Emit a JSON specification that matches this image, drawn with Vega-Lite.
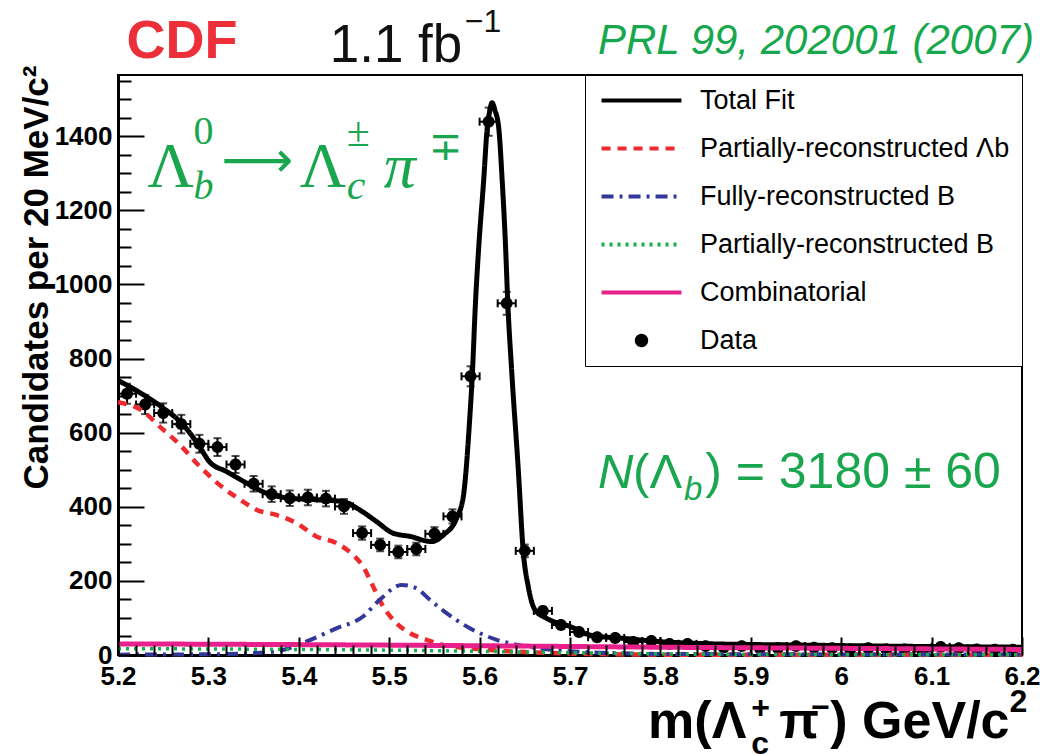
{
  "$schema": "https://vega.github.io/schema/vega-lite/v6.json",
  "width": 904,
  "height": 580,
  "autosize": {"type": "none"},
  "padding": {"left": 118, "top": 75, "right": 18, "bottom": 99},
  "background": "white",
  "config": {
    "view": {"stroke": "black", "strokeWidth": 2},
    "axis": {"grid": false, "zindex": 1, "domainColor": "black", "domainWidth": 3, "tickColor": "black", "tickWidth": 2, "labelFont": "Liberation Sans", "labelFontWeight": "bold", "labelFontSize": 26, "labelColor": "black", "labelFlush": false, "labelOverlap": false},
    "legend": {
      "orient": "top-right", "offset": 0, "padding": 12,
      "strokeColor": "black", "fillColor": "white",
      "labelFont": "Liberation Sans", "labelFontSize": 27, "labelColor": "black", "labelLimit": 500,
      "labelOffset": 45, "rowPadding": 20,
      "symbolSize": 289, "symbolStrokeWidth": 4, "symbolOffset": 31
    },
    "text": {"font": "Liberation Sans"}
  },
  "resolve": {"axis": {"x": "independent", "y": "independent"}},
  "datasets": {
    "pts": [
      {"m":5.21,"lo":5.20,"hi":5.22,"n":705,"err":27},
      {"m":5.23,"lo":5.22,"hi":5.24,"n":676,"err":26},
      {"m":5.25,"lo":5.24,"hi":5.26,"n":653,"err":26},
      {"m":5.27,"lo":5.26,"hi":5.28,"n":623,"err":25},
      {"m":5.29,"lo":5.28,"hi":5.30,"n":570,"err":24},
      {"m":5.31,"lo":5.30,"hi":5.32,"n":561,"err":24},
      {"m":5.33,"lo":5.32,"hi":5.34,"n":514,"err":23},
      {"m":5.35,"lo":5.34,"hi":5.36,"n":462,"err":21},
      {"m":5.37,"lo":5.36,"hi":5.38,"n":434,"err":21},
      {"m":5.39,"lo":5.38,"hi":5.40,"n":423,"err":21},
      {"m":5.41,"lo":5.40,"hi":5.42,"n":425,"err":21},
      {"m":5.43,"lo":5.42,"hi":5.44,"n":422,"err":21},
      {"m":5.45,"lo":5.44,"hi":5.46,"n":401,"err":20},
      {"m":5.47,"lo":5.46,"hi":5.48,"n":329,"err":18},
      {"m":5.49,"lo":5.48,"hi":5.50,"n":297,"err":17},
      {"m":5.51,"lo":5.50,"hi":5.52,"n":278,"err":17},
      {"m":5.53,"lo":5.52,"hi":5.54,"n":286,"err":17},
      {"m":5.55,"lo":5.54,"hi":5.56,"n":327,"err":18},
      {"m":5.57,"lo":5.56,"hi":5.58,"n":374,"err":19},
      {"m":5.59,"lo":5.58,"hi":5.60,"n":752,"err":27},
      {"m":5.61,"lo":5.60,"hi":5.62,"n":1439,"err":38},
      {"m":5.63,"lo":5.62,"hi":5.64,"n":949,"err":31},
      {"m":5.65,"lo":5.64,"hi":5.66,"n":281,"err":17},
      {"m":5.67,"lo":5.66,"hi":5.68,"n":119,"err":11},
      {"m":5.69,"lo":5.68,"hi":5.70,"n":81,"err":9},
      {"m":5.71,"lo":5.70,"hi":5.72,"n":62,"err":8},
      {"m":5.73,"lo":5.72,"hi":5.74,"n":48,"err":7},
      {"m":5.75,"lo":5.74,"hi":5.76,"n":46,"err":7},
      {"m":5.77,"lo":5.76,"hi":5.78,"n":35,"err":6},
      {"m":5.79,"lo":5.78,"hi":5.80,"n":38,"err":6},
      {"m":5.81,"lo":5.80,"hi":5.82,"n":30,"err":5},
      {"m":5.83,"lo":5.82,"hi":5.84,"n":30,"err":5},
      {"m":5.85,"lo":5.84,"hi":5.86,"n":24,"err":5},
      {"m":5.87,"lo":5.86,"hi":5.88,"n":20,"err":4},
      {"m":5.89,"lo":5.88,"hi":5.90,"n":24,"err":5},
      {"m":5.91,"lo":5.90,"hi":5.92,"n":18,"err":4},
      {"m":5.93,"lo":5.92,"hi":5.94,"n":18,"err":4},
      {"m":5.95,"lo":5.94,"hi":5.96,"n":24,"err":5},
      {"m":5.97,"lo":5.96,"hi":5.98,"n":20,"err":4},
      {"m":5.99,"lo":5.98,"hi":6.00,"n":18,"err":4},
      {"m":6.01,"lo":6.00,"hi":6.02,"n":15,"err":4},
      {"m":6.03,"lo":6.02,"hi":6.04,"n":18,"err":4},
      {"m":6.05,"lo":6.04,"hi":6.06,"n":15,"err":4},
      {"m":6.07,"lo":6.06,"hi":6.08,"n":15,"err":4},
      {"m":6.09,"lo":6.08,"hi":6.10,"n":10,"err":3},
      {"m":6.11,"lo":6.10,"hi":6.12,"n":22,"err":5},
      {"m":6.13,"lo":6.12,"hi":6.14,"n":18,"err":4},
      {"m":6.15,"lo":6.14,"hi":6.16,"n":15,"err":4},
      {"m":6.17,"lo":6.16,"hi":6.18,"n":14,"err":4},
      {"m":6.19,"lo":6.18,"hi":6.20,"n":14,"err":4}
    ],
    "total": [
      {"m":5.200,"v":741},{"m":5.2275,"v":703},{"m":5.2496,"v":667},{"m":5.2718,"v":622},
      {"m":5.290,"v":563},{"m":5.301,"v":522},{"m":5.320,"v":495},{"m":5.346,"v":459},
      {"m":5.360,"v":441},{"m":5.390,"v":423},{"m":5.419,"v":419},{"m":5.449,"v":414},
      {"m":5.467,"v":392},{"m":5.486,"v":360},{"m":5.504,"v":329},{"m":5.523,"v":320},
      {"m":5.547,"v":306},{"m":5.560,"v":324},{"m":5.5745,"v":369},{"m":5.582,"v":428},
      {"m":5.589,"v":635},{"m":5.5919,"v":754},{"m":5.5954,"v":949},{"m":5.5991,"v":1103},
      {"m":5.6046,"v":1284},{"m":5.6083,"v":1419},{"m":5.611,"v":1465},{"m":5.6138,"v":1490},
      {"m":5.617,"v":1470},{"m":5.6213,"v":1419},{"m":5.6249,"v":1284},{"m":5.6287,"v":1103},
      {"m":5.6312,"v":949},{"m":5.6354,"v":770},{"m":5.6428,"v":500},{"m":5.6483,"v":279},
      {"m":5.6538,"v":185},{"m":5.6612,"v":122},{"m":5.6742,"v":99},{"m":5.700,"v":77},
      {"m":5.722,"v":54},{"m":5.763,"v":44},{"m":5.800,"v":36},{"m":5.859,"v":30},
      {"m":5.95,"v":27},{"m":6.05,"v":24},{"m":6.2,"v":21}
    ],
    "red": [
      {"m":5.2,"v":682},{"m":5.2275,"v":658},{"m":5.2459,"v":617},{"m":5.2681,"v":568},
      {"m":5.2903,"v":509},{"m":5.3124,"v":459},{"m":5.3382,"v":414},{"m":5.353,"v":392},
      {"m":5.3751,"v":378},{"m":5.3973,"v":356},{"m":5.4194,"v":320},{"m":5.4416,"v":302},
      {"m":5.46,"v":270},{"m":5.4711,"v":239},{"m":5.4822,"v":185},{"m":5.4933,"v":131},
      {"m":5.508,"v":86},{"m":5.5228,"v":59},{"m":5.5413,"v":41},{"m":5.5597,"v":27},
      {"m":5.5893,"v":18},{"m":5.62,"v":12},{"m":5.66,"v":7},{"m":5.72,"v":3},
      {"m":5.8,"v":1},{"m":6.2,"v":0.5}
    ],
    "blue": [
      {"m":5.2,"v":1},{"m":5.3,"v":2},{"m":5.35,"v":5},{"m":5.38,"v":12},
      {"m":5.408,"v":36},{"m":5.4416,"v":72},{"m":5.4711,"v":104},{"m":5.4896,"v":149},
      {"m":5.5136,"v":189},{"m":5.5302,"v":180},{"m":5.545,"v":149},{"m":5.5634,"v":113},
      {"m":5.5893,"v":72},{"m":5.6188,"v":41},{"m":5.652,"v":23},{"m":5.7,"v":10},
      {"m":5.8,"v":3},{"m":6.2,"v":1}
    ],
    "green": [
      {"m":5.2,"v":17},{"m":5.4,"v":15},{"m":5.5,"v":13},{"m":5.6,"v":10},
      {"m":5.7,"v":6},{"m":5.8,"v":3},{"m":5.9,"v":1.5},{"m":6.2,"v":0.5}
    ],
    "pink": [
      {"m":5.2,"v":30},{"m":5.4,"v":28},{"m":5.6,"v":25},{"m":5.8,"v":21},
      {"m":6.0,"v":18},{"m":6.2,"v":15}
    ]
  },
  "layer": [
    {
      "data": {"name": "pts"},
      "mark": {"type": "point", "filled": true, "size": 470, "opacity": 1},
      "encoding": {
        "x": {
          "field": "m", "type": "quantitative",
          "scale": {"domain": [5.2, 6.2], "nice": false, "zero": false},
          "axis": {
            "title": null, "orient": "bottom",
            "values": [5.2,5.3,5.4,5.5,5.6,5.7,5.8,5.9,6,6.1,6.2],
            "format": "~g",
            "ticks": false,
            "labelPadding": 8,
            "labelOverlap": false
          }
        },
        "y": {
          "field": "n", "type": "quantitative",
          "scale": {"domain": [0, 1565], "nice": false, "zero": false},
          "axis": {
            "orient": "left",
            "title": "Candidates per 20 MeV/c²",
            "titleFont": "Liberation Sans", "titleFontWeight": "bold", "titleFontSize": 35, "titleColor": "black",
            "titleX": -71, "titleY": -10, "titleAlign": "right", "titleAngle": 270, "titleBaseline": "alphabetic",
            "values": [0,200,400,600,800,1000,1200,1400],
            "format": "d",
            "ticks": false,
            "labelPadding": 6,
            "labelOverlap": false
          }
        },
        "color": {
          "datum": "Data",
          "title": null,
          "scale": {
            "domain": ["Total Fit", "Partially-reconstructed Λb", "Fully-reconstructed B", "Partially-reconstructed B", "Combinatorial", "Data"],
            "range": ["#000000", "#ee2a2e", "#33379a", "#16b04e", "#e8208c", "#000000"]
          },
          "legend": {"title": null, "labelExpr": "datum.value === 'Partially-reconstructed Λb' ? datum.label + '\u2003\u2003' : datum.label"}
        },
        "shape": {
          "datum": "Data",
          "title": null,
          "scale": {
            "domain": ["Total Fit", "Partially-reconstructed Λb", "Fully-reconstructed B", "Partially-reconstructed B", "Combinatorial", "Data"],
            "range": ["M-4.7,0H4.7", "M-4.7,0H4.7", "M-4.7,0H4.7", "M-4.7,0H4.7", "M-4.7,0H4.7", "M0.55,0A0.55,0.55 0 1,1 -0.55,0A0.55,0.55 0 1,1 0.55,0Z"]
          },
          "legend": {"title": null, "labelExpr": "datum.value === 'Partially-reconstructed Λb' ? datum.label + '\u2003\u2003' : datum.label"}
        }
      }
    },
    {
      "data": {"name": "pts"},
      "mark": {"type": "errorbar", "ticks": {"size": 8}, "thickness": 2, "color": "black"},
      "encoding": {
        "x": {"field": "m", "type": "quantitative", "axis": null},
        "y": {"field": "n", "type": "quantitative", "axis": null},
        "yError": {"field": "err"}
      }
    },
    {
      "data": {"name": "pts"},
      "mark": {"type": "rule", "strokeWidth": 2, "color": "black"},
      "encoding": {
        "x": {"field": "lo", "type": "quantitative", "axis": null},
        "x2": {"field": "hi"},
        "y": {"field": "n", "type": "quantitative", "axis": null}
      }
    },
    {
      "data": {"name": "pts"},
      "mark": {"type": "tick", "orient": "vertical", "size": 8, "thickness": 2, "color": "black", "opacity": 1},
      "encoding": {
        "x": {"field": "lo", "type": "quantitative", "axis": null},
        "y": {"field": "n", "type": "quantitative", "axis": null}
      }
    },
    {
      "data": {"name": "pts"},
      "mark": {"type": "tick", "orient": "vertical", "size": 8, "thickness": 2, "color": "black", "opacity": 1},
      "encoding": {
        "x": {"field": "hi", "type": "quantitative", "axis": null},
        "y": {"field": "n", "type": "quantitative", "axis": null}
      }
    },
    {
      "data": {"name": "total"},
      "mark": {"type": "line", "strokeWidth": 5, "interpolate": "monotone"},
      "encoding": {
        "x": {"field": "m", "type": "quantitative",
          "axis": {"orient": "bottom", "offset": -18, "zindex": 2, "title": null, "labels": false, "domain": false, "ticks": true, "tickSize": 18,
            "values": [5.2,5.3,5.4,5.5,5.6,5.7,5.8,5.9,6,6.1,6.2]}},
        "y": {"field": "v", "type": "quantitative",
          "axis": {"orient": "right", "offset": -904, "zindex": 2, "title": null, "labels": false, "domain": false, "tickSize": 26,
            "values": [0,200,400,600,800,1000,1200,1400]}},
        "color": {"datum": "Total Fit"},
        "strokeDash": {
          "datum": "Total Fit",
          "title": null,
          "scale": {
            "domain": ["Total Fit", "Partially-reconstructed Λb", "Fully-reconstructed B", "Partially-reconstructed B", "Combinatorial", "Data"],
            "range": [[1, 0], [9, 7], [12, 6, 3, 6], [3, 5], [1, 0], [1, 0]]
          },
          "legend": {"title": null, "labelExpr": "datum.value === 'Partially-reconstructed Λb' ? datum.label + '\u2003\u2003' : datum.label"}
        }
      }
    },
    {
      "data": {"name": "red"},
      "mark": {"type": "line", "strokeWidth": 4.5, "interpolate": "monotone"},
      "encoding": {
        "x": {"field": "m", "type": "quantitative", "axis": null},
        "y": {"field": "v", "type": "quantitative", "axis": null},
        "color": {"datum": "Partially-reconstructed Λb"},
        "strokeDash": {"datum": "Partially-reconstructed Λb"}
      }
    },
    {
      "data": {"name": "blue"},
      "mark": {"type": "line", "strokeWidth": 4, "interpolate": "monotone"},
      "encoding": {
        "x": {"field": "m", "type": "quantitative", "axis": null},
        "y": {"field": "v", "type": "quantitative", "axis": null},
        "color": {"datum": "Fully-reconstructed B"},
        "strokeDash": {"datum": "Fully-reconstructed B"}
      }
    },
    {
      "data": {"name": "green"},
      "mark": {"type": "line", "strokeWidth": 3.5, "interpolate": "monotone"},
      "encoding": {
        "x": {"field": "m", "type": "quantitative", "axis": null},
        "y": {"field": "v", "type": "quantitative", "axis": null},
        "color": {"datum": "Partially-reconstructed B"},
        "strokeDash": {"datum": "Partially-reconstructed B"}
      }
    },
    {
      "data": {"name": "pink"},
      "mark": {"type": "line", "strokeWidth": 5, "interpolate": "monotone"},
      "encoding": {
        "x": {"field": "m", "type": "quantitative",
          "axis": {"orient": "bottom", "offset": -10, "zindex": 2, "title": null, "labels": false, "domain": false, "ticks": true, "tickSize": 10,
            "values": [5.22,5.24,5.26,5.28,5.32,5.34,5.36,5.38,5.42,5.44,5.46,5.48,5.52,5.54,5.56,5.58,5.62,5.64,5.66,5.68,5.72,5.74,5.76,5.78,5.82,5.84,5.86,5.88,5.92,5.94,5.96,5.98,6.02,6.04,6.06,6.08,6.12,6.14,6.16,6.18]}},
        "y": {"field": "v", "type": "quantitative",
          "axis": {"orient": "right", "offset": -904, "zindex": 2, "title": null, "labels": false, "domain": false, "tickSize": 13,
            "values": [50,100,150,250,300,350,450,500,550,650,700,750,850,900,950,1050,1100,1150,1250,1300,1350,1450,1500,1550]}},
        "color": {"datum": "Combinatorial"},
        "strokeDash": {"datum": "Combinatorial"}
      }
    },
    {"data": {"values": [{}]}, "mark": {"type": "text", "text": "CDF", "fontWeight": "bold", "fontSize": 54, "color": "#ec2f38", "align": "left", "baseline": "alphabetic"},
     "encoding": {"x": {"datum": 5.2094, "axis": null}, "y": {"datum": 1611, "axis": null}}},
    {"data": {"values": [{}]}, "mark": {"type": "text", "text": "1.1 fb", "fontSize": 53, "color": "#111111", "align": "left", "baseline": "alphabetic"},
     "encoding": {"x": {"datum": 5.4342, "axis": null}, "y": {"datum": 1600, "axis": null}}},
    {"data": {"values": [{}]}, "mark": {"type": "text", "text": "−1", "fontSize": 32, "color": "#111111", "align": "left", "baseline": "alphabetic"},
     "encoding": {"x": {"datum": 5.5837, "axis": null}, "y": {"datum": 1681, "axis": null}}},
    {"data": {"values": [{}]}, "mark": {"type": "text", "text": "PRL 99, 202001 (2007)", "fontSize": 42, "fontStyle": "italic", "color": "#17a84d", "align": "left", "baseline": "alphabetic"},
     "encoding": {"x": {"datum": 5.731, "axis": null}, "y": {"datum": 1622, "axis": null}}},
    {"data": {"values": [{}]}, "mark": {"type": "text", "text": "Λ", "font": "Liberation Serif", "fontSize": 64, "color": "#1aa64f", "align": "left", "baseline": "alphabetic"},
     "encoding": {"x": {"datum": 5.2327, "axis": null}, "y": {"datum": 1262, "axis": null}}},
    {"data": {"values": [{}]}, "mark": {"type": "text", "text": "0", "font": "Liberation Serif", "fontSize": 40, "color": "#1aa64f", "align": "left", "baseline": "alphabetic"},
     "encoding": {"x": {"datum": 5.2836, "axis": null}, "y": {"datum": 1378, "axis": null}}},
    {"data": {"values": [{}]}, "mark": {"type": "text", "text": "b", "font": "Liberation Serif", "fontStyle": "italic", "fontSize": 40, "color": "#1aa64f", "align": "left", "baseline": "alphabetic"},
     "encoding": {"x": {"datum": 5.2836, "axis": null}, "y": {"datum": 1230, "axis": null}}},
    {"data": {"values": [{}]}, "mark": {"type": "text", "text": "⟶", "font": "DejaVu Sans", "fontSize": 50, "color": "#1aa64f", "align": "left", "baseline": "alphabetic"},
     "encoding": {"x": {"datum": 5.3146, "axis": null}, "y": {"datum": 1290, "axis": null}}},
    {"data": {"values": [{}]}, "mark": {"type": "text", "text": "Λ", "font": "Liberation Serif", "fontSize": 64, "color": "#1aa64f", "align": "left", "baseline": "alphabetic"},
     "encoding": {"x": {"datum": 5.4010, "axis": null}, "y": {"datum": 1262, "axis": null}}},
    {"data": {"values": [{}]}, "mark": {"type": "text", "text": "±", "font": "Liberation Serif", "fontSize": 42, "color": "#1aa64f", "align": "left", "baseline": "alphabetic"},
     "encoding": {"x": {"datum": 5.4530, "axis": null}, "y": {"datum": 1373, "axis": null}}},
    {"data": {"values": [{}]}, "mark": {"type": "text", "text": "c", "font": "Liberation Serif", "fontStyle": "italic", "fontSize": 42, "color": "#1aa64f", "align": "left", "baseline": "alphabetic"},
     "encoding": {"x": {"datum": 5.4530, "axis": null}, "y": {"datum": 1230, "axis": null}}},
    {"data": {"values": [{}]}, "mark": {"type": "text", "text": "π", "font": "Liberation Serif", "fontStyle": "italic", "fontSize": 64, "color": "#1aa64f", "align": "left", "baseline": "alphabetic"},
     "encoding": {"x": {"datum": 5.4940, "axis": null}, "y": {"datum": 1262, "axis": null}}},
    {"data": {"values": [{}]}, "mark": {"type": "text", "text": "∓", "font": "DejaVu Sans", "fontSize": 40, "color": "#1aa64f", "align": "left", "baseline": "alphabetic"},
     "encoding": {"x": {"datum": 5.5440, "axis": null}, "y": {"datum": 1335, "axis": null}}},
    {"data": {"values": [{}]}, "mark": {"type": "text", "text": "N", "fontStyle": "italic", "fontSize": 49, "color": "#1aa64f", "align": "left", "baseline": "alphabetic"},
     "encoding": {"x": {"datum": 5.731, "axis": null}, "y": {"datum": 451, "axis": null}}},
    {"data": {"values": [{}]}, "mark": {"type": "text", "text": "(Λ", "fontSize": 49, "color": "#1aa64f", "align": "left", "baseline": "alphabetic"},
     "encoding": {"x": {"datum": 5.7698, "axis": null}, "y": {"datum": 451, "axis": null}}},
    {"data": {"values": [{}]}, "mark": {"type": "text", "text": "b", "fontStyle": "italic", "fontSize": 33, "color": "#1aa64f", "align": "left", "baseline": "alphabetic"},
     "encoding": {"x": {"datum": 5.8262, "axis": null}, "y": {"datum": 419, "axis": null}}},
    {"data": {"values": [{}]}, "mark": {"type": "text", "text": ") = 3180 ± 60", "fontSize": 50, "color": "#1aa64f", "align": "left", "baseline": "alphabetic"},
     "encoding": {"x": {"datum": 5.8495, "axis": null}, "y": {"datum": 451, "axis": null}}},
    {"data": {"values": [{}]}, "mark": {"type": "text", "text": "m(Λ", "fontWeight": "bold", "fontSize": 52, "color": "black", "align": "left", "baseline": "alphabetic"},
     "encoding": {"x": {"datum": 5.7864, "axis": null}, "y": {"datum": -224, "axis": null}}},
    {"data": {"values": [{}]}, "mark": {"type": "text", "text": "+", "fontWeight": "bold", "fontSize": 32, "color": "black", "align": "left", "baseline": "alphabetic"},
     "encoding": {"x": {"datum": 5.9004, "axis": null}, "y": {"datum": -170, "axis": null}}},
    {"data": {"values": [{}]}, "mark": {"type": "text", "text": "c", "fontWeight": "bold", "fontSize": 32, "color": "black", "align": "left", "baseline": "alphabetic"},
     "encoding": {"x": {"datum": 5.9004, "axis": null}, "y": {"datum": -268, "axis": null}}},
    {"data": {"values": [{}]}, "mark": {"type": "text", "text": "π", "fontWeight": "bold", "fontSize": 52, "color": "black", "align": "left", "baseline": "alphabetic"},
     "encoding": {"x": {"datum": 5.9315, "axis": null}, "y": {"datum": -224, "axis": null}}},
    {"data": {"values": [{}]}, "mark": {"type": "text", "text": "−", "fontWeight": "bold", "fontSize": 32, "color": "black", "align": "left", "baseline": "alphabetic"},
     "encoding": {"x": {"datum": 5.9670, "axis": null}, "y": {"datum": -170, "axis": null}}},
    {"data": {"values": [{}]}, "mark": {"type": "text", "text": ") GeV/c", "fontWeight": "bold", "fontSize": 52, "color": "black", "align": "left", "baseline": "alphabetic"},
     "encoding": {"x": {"datum": 5.9880, "axis": null}, "y": {"datum": -224, "axis": null}}},
    {"data": {"values": [{}]}, "mark": {"type": "text", "text": "2", "fontWeight": "bold", "fontSize": 32, "color": "black", "align": "left", "baseline": "alphabetic"},
     "encoding": {"x": {"datum": 6.1862, "axis": null}, "y": {"datum": -154, "axis": null}}}
  ]
}
